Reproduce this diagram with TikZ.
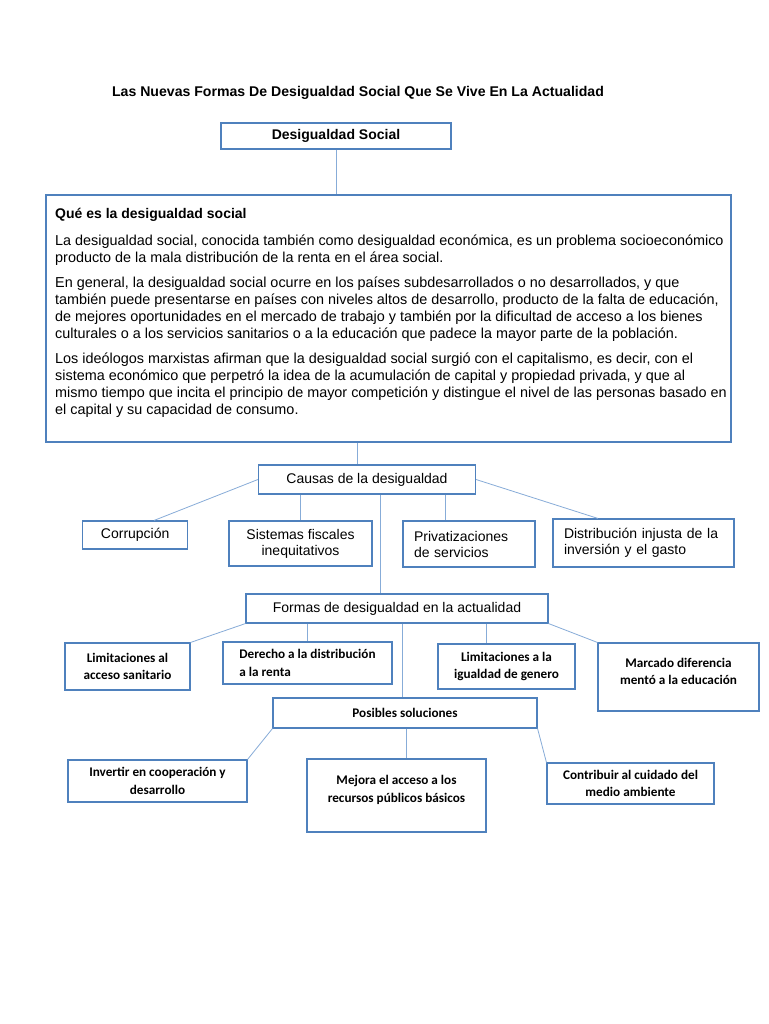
\documentclass[tikz,border=0pt]{standalone}
\usepackage{fontspec}
\setmainfont{Liberation Sans}
\newfontfamily\calibri{Carlito}
\definecolor{boxblue}{RGB}{79,129,189}
\definecolor{linkblue}{RGB}{135,172,216}

\begin{document}
\begin{tikzpicture}[x=1pt,y=-1pt,
  box/.style={draw=boxblue, line width=1.1pt, inner sep=0pt, align=center,
    font=\fontsize{14}{16}\selectfont},
  sbox/.style={draw=boxblue, line width=1.1pt, inner sep=0pt, align=center,
    font=\calibri\bfseries\fontsize{13.2}{17.5}\selectfont},
  link/.style={draw=linkblue, line width=0.8pt}]

\useasboundingbox[fill=white] (0,0) rectangle (768,1024);

% titulo y caja principal
\node[font=\bfseries\fontsize{14.1}{16}\selectfont] (titulo) at (358,93)
  {Las Nuevas Formas De Desigualdad Social Que Se Vive En La Actualidad};
\node[box, font=\bfseries\fontsize{14}{16}\selectfont,
  minimum width=230, minimum height=26] (desig) at (336,136) {Desigualdad Social};

\node[box, minimum width=685, minimum height=247] (que) at (388.5,318.5) {};
\node[anchor=north west, inner sep=0pt, align=left,
  font=\fontsize{14.4}{17}\selectfont] (quetxt) at (55,208) {%
\textbf{\fontsize{14}{17}\selectfont Qué es la desigualdad social}\\[10pt]
La desigualdad social, conocida también como desigualdad económica, es un problema socioeconómico\\
producto de la mala distribución de la renta en el área social.\\[8pt]
En general, la desigualdad social ocurre en los países subdesarrollados o no desarrollados, y que\\
también puede presentarse en países con niveles altos de desarrollo, producto de la falta de educación,\\
de mejores oportunidades en el mercado de trabajo y también por la dificultad de acceso a los bienes\\
culturales o a los servicios sanitarios o a la educación que padece la mayor parte de la población.\\[8pt]
Los ideólogos marxistas afirman que la desigualdad social surgió con el capitalismo, es decir, con el\\
sistema económico que perpetró la idea de la acumulación de capital y propiedad privada, y que al\\
mismo tiempo que incita el principio de mayor competición y distingue el nivel de las personas basado en\\
el capital y su capacidad de consumo.};

% causas
\node[box, minimum width=217, minimum height=29] (causas) at (367,479.5) {Causas de la desigualdad};
\node[box, minimum width=105, minimum height=28] (corrup) at (135.2,535) {Corrupción};
\node[box, minimum width=143, minimum height=45] (sistemas) at (300.5,543.5)
  {Sistemas fiscales\\inequitativos};
\node[box, minimum height=46, inner xsep=11pt, text width=110, align=left] (privat) at (469,544)
  {Privatizaciones\\de servicios};
\node[box, minimum height=48, inner xsep=11pt, text width=159, align=left] (distrib) at (643.5,543)
  {Distribución injusta de la\\inversión y el gasto};

% formas
\node[box, minimum width=302, minimum height=29] (formas) at (397,608.5)
  {Formas de desigualdad en la actualidad};
\node[sbox, minimum width=125, minimum height=47] (limacc) at (127.5,666.5)
  {Limitaciones al\\acceso sanitario};
\node[sbox, minimum width=169, minimum height=42, align=left] (derecho) at (307.5,663)
  {Derecho a la distribución\\a la renta};
\node[sbox, minimum width=137, minimum height=45] (limigu) at (506.5,666.5)
  {Limitaciones a la\\igualdad de genero};
\node[sbox, minimum width=161, minimum height=68, text depth=11.5pt] (marcado) at (678.5,677)
  {Marcado diferencia\\mentó a la educación};

% soluciones
\node[sbox, minimum width=264, minimum height=30] (posibles) at (405,713) {Posibles soluciones};
\node[sbox, minimum width=179, minimum height=42] (invertir) at (157.5,781)
  {Invertir en cooperación y\\desarrollo};
\node[sbox, minimum width=179, minimum height=73, text depth=13.5pt] (mejora) at (396.5,795.5)
  {Mejora el acceso a los\\recursos públicos básicos};
\node[sbox, minimum width=167, minimum height=41] (contrib) at (630.5,783.5)
  {Contribuir al cuidado del\\medio ambiente};

% puntos de paso de las lineas
\coordinate (cq) at (357,0);
\coordinate (cc) at (154,0);
\coordinate (cp) at (445,0);
\coordinate (cd) at (598,0);
\coordinate (cf) at (380.5,0);
\coordinate (cl) at (486,0);
\coordinate (cs) at (402,0);
\coordinate (cm) at (406,0);

\draw[link] (desig.south) -- (desig.south |- que.north);
\draw[link] (cq |- que.south) -- (cq |- causas.north);

\draw[link] (causas.west) -- (cc |- corrup.north);
\draw[link] (sistemas.north |- causas.south) -- (sistemas.north);
\draw[link] (cp |- causas.south) -- (cp |- privat.north);
\draw[link] (causas.east) -- (cd |- distrib.north);
\draw[link] (cf |- causas.south) -- (cf |- formas.north);

\draw[link] (formas.south west) -- (limacc.north east);
\draw[link] (derecho.north |- formas.south) -- (derecho.north);
\draw[link] (cl |- formas.south) -- (cl |- limigu.north);
\draw[link] (formas.south east) -- (marcado.north west);
\draw[link] (cs |- formas.south) -- (cs |- posibles.north);

\draw[link] (posibles.south west) -- (invertir.north east);
\draw[link] (cm |- posibles.south) -- (cm |- mejora.north);
\draw[link] (posibles.south east) -- (contrib.north west);

\end{tikzpicture}
\end{document}
